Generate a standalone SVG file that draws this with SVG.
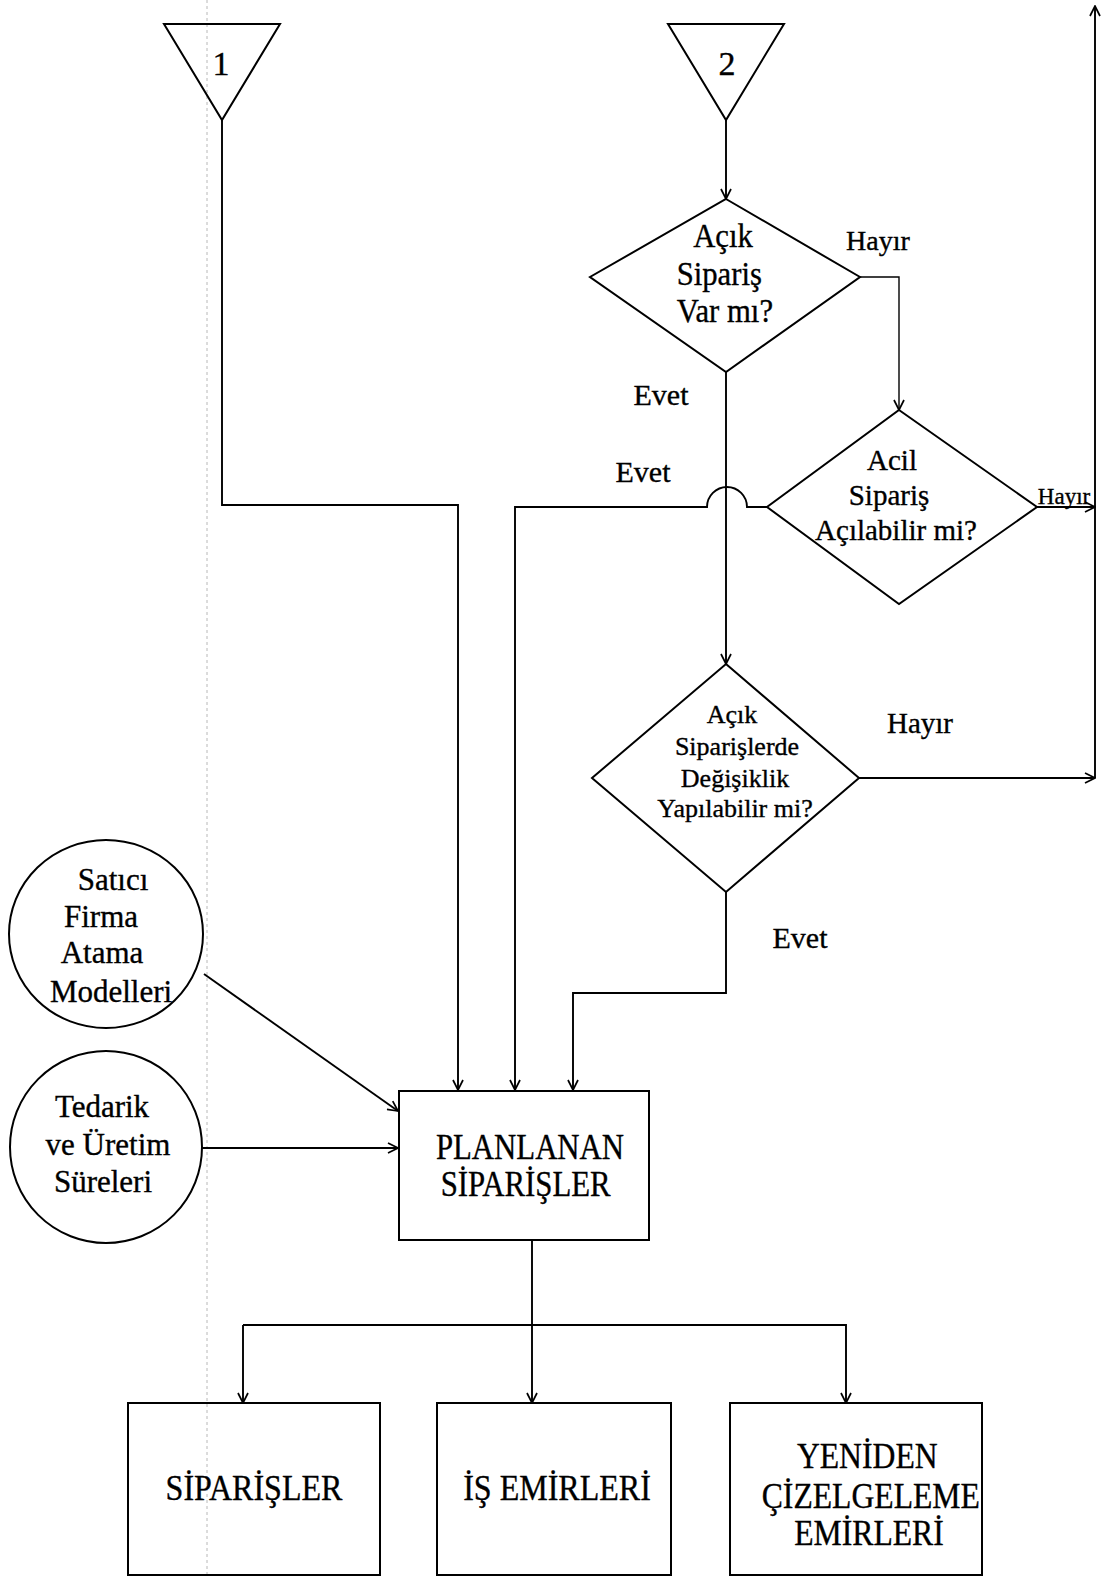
<svg xmlns="http://www.w3.org/2000/svg" width="1108" height="1577" viewBox="0 0 1108 1577">
  <style>
    .shape { fill: none; stroke: #000; stroke-width: 2; }
    .wire { fill: none; stroke: #000; stroke-width: 1.9; }
    .thin { stroke-width: 1.4; }
    text { font-family: "Liberation Serif", "Times New Roman", serif; fill: #000; stroke: #000; stroke-width: 0.35; text-anchor: middle; }
    .guide { stroke: #b8b8b8; stroke-width: 1; stroke-dasharray: 3 3; }
  </style>
  <defs>
    <marker id="arrow" viewBox="0 0 12 12" refX="11" refY="6" markerWidth="12" markerHeight="12" markerUnits="userSpaceOnUse" orient="auto">
      <path d="M1,1 L11,6 L1,11" fill="none" stroke="#000" stroke-width="1.7"/>
    </marker>
  </defs>
  <rect width="1108" height="1577" fill="#fff"/>

  <!-- page margin guide -->
  <line class="guide" x1="207" y1="0" x2="207" y2="1577"/>

  <!-- connectors -->
  <g id="connectors">
    <path class="wire" d="M222,120 V505 H458 V1090" marker-end="url(#arrow)"/>
    <path class="wire" d="M726,120 V199" marker-end="url(#arrow)"/>
    <path class="wire thin" d="M860,277 H899 V410" marker-end="url(#arrow)"/>
    <path class="wire" d="M1037,507 H1095" marker-end="url(#arrow)"/>
    <path class="wire" d="M767,507 H747 A20,20 0 0 0 707,507 H515 V1090" marker-end="url(#arrow)"/>
    <path class="wire" d="M726,372 V664" marker-end="url(#arrow)"/>
    <path class="wire" d="M859,778 H1095" marker-end="url(#arrow)"/>
    <path class="wire" d="M1095,778 V6" marker-end="url(#arrow)"/>
    <path class="wire" d="M726,892 V993 H573 V1090" marker-end="url(#arrow)"/>
    <path class="wire" d="M204,974 L398,1111" marker-end="url(#arrow)"/>
    <path class="wire" d="M202,1148 H398" marker-end="url(#arrow)"/>
    <path class="wire" d="M532,1240 V1403" marker-end="url(#arrow)"/>
    <path class="wire" d="M243,1325 H846 V1403" marker-end="url(#arrow)"/>
    <path class="wire" d="M243,1325 V1403" marker-end="url(#arrow)"/>
    <!-- branch labels -->
    <text x="878" y="250" font-size="28">Hayır</text>
    <text x="661" y="405" font-size="30">Evet</text>
    <text x="643" y="482" font-size="30">Evet</text>
    <text x="1064" y="504" font-size="23">Hayır</text>
    <text x="920" y="733" font-size="29">Hayır</text>
    <text x="800" y="948" font-size="30">Evet</text>
  </g>

  <!-- connector 1 -->
  <g id="connector-1">
    <polygon class="shape" points="164,24 280,24 222,120"/>
    <text x="221" y="75" font-size="34">1</text>
  </g>

  <!-- connector 2 -->
  <g id="connector-2">
    <polygon class="shape" points="668,24 784,24 726,120"/>
    <text x="727" y="75" font-size="34">2</text>
  </g>

  <!-- decision: open order exists? -->
  <g id="open-order">
    <polygon class="shape" points="726,199 860,277 726,372 590,277"/>
    <g transform="translate(723 0) scale(0.93 1)">
      <text x="0" y="247" font-size="33">Açık</text>
      <text x="-4" y="285" font-size="33">Sipariş</text>
      <text x="2" y="322" font-size="33">Var mı?</text>
    </g>
  </g>

  <!-- decision: urgent order possible? -->
  <g id="urgent-order">
    <polygon class="shape" points="899,410 1037,507 899,604 767,507"/>
    <text x="892" y="470" font-size="29">Acil</text>
    <text x="889" y="505" font-size="29">Sipariş</text>
    <text x="896" y="540" font-size="29">Açılabilir mi?</text>
  </g>

  <!-- decision: change open orders? -->
  <g id="change-orders">
    <polygon class="shape" points="726,664 859,778 726,892 592,778"/>
    <text x="732" y="723" font-size="26">Açık</text>
    <text x="737" y="755" font-size="26">Siparişlerde</text>
    <text x="735" y="787" font-size="26">Değişiklik</text>
    <text x="735" y="817" font-size="26">Yapılabilir mi?</text>
  </g>

  <!-- input: vendor assignment models -->
  <g id="vendor-models">
    <ellipse class="shape" cx="106" cy="934" rx="97" ry="94"/>
    <text x="113" y="890" font-size="31">Satıcı</text>
    <text x="101" y="927" font-size="31">Firma</text>
    <text x="102" y="963" font-size="31">Atama</text>
    <text x="111" y="1002" font-size="31">Modelleri</text>
  </g>

  <!-- input: lead and production times -->
  <g id="lead-times">
    <ellipse class="shape" cx="106" cy="1147" rx="96" ry="96"/>
    <text x="102" y="1117" font-size="31">Tedarik</text>
    <text x="108" y="1155" font-size="31">ve Üretim</text>
    <text x="103" y="1192" font-size="31">Süreleri</text>
  </g>

  <!-- planned orders -->
  <g id="planned-orders">
    <rect class="shape" x="399" y="1091" width="250" height="149"/>
    <g transform="translate(530 0) scale(0.88 1)">
      <text x="0" y="1159" font-size="35">PLANLANAN</text>
      <text x="-5" y="1196" font-size="35">SİPARİŞLER</text>
    </g>
  </g>

  <!-- outputs -->
  <g id="orders">
    <rect class="shape" x="128" y="1403" width="252" height="172"/>
    <g transform="translate(254 0) scale(0.89 1)">
      <text x="0" y="1500" font-size="36">SİPARİŞLER</text>
    </g>
  </g>
  <g id="work-orders">
    <rect class="shape" x="437" y="1403" width="234" height="172"/>
    <g transform="translate(557 0) scale(0.89 1)">
      <text x="0" y="1500" font-size="36">İŞ EMİRLERİ</text>
    </g>
  </g>
  <g id="reschedule-orders">
    <rect class="shape" x="730" y="1403" width="252" height="172"/>
    <g transform="translate(869 0) scale(0.88 1)">
      <text x="-2" y="1468" font-size="36">YENİDEN</text>
      <text x="2" y="1508" font-size="36">ÇİZELGELEME</text>
      <text x="0" y="1545" font-size="36">EMİRLERİ</text>
    </g>
  </g>
</svg>
